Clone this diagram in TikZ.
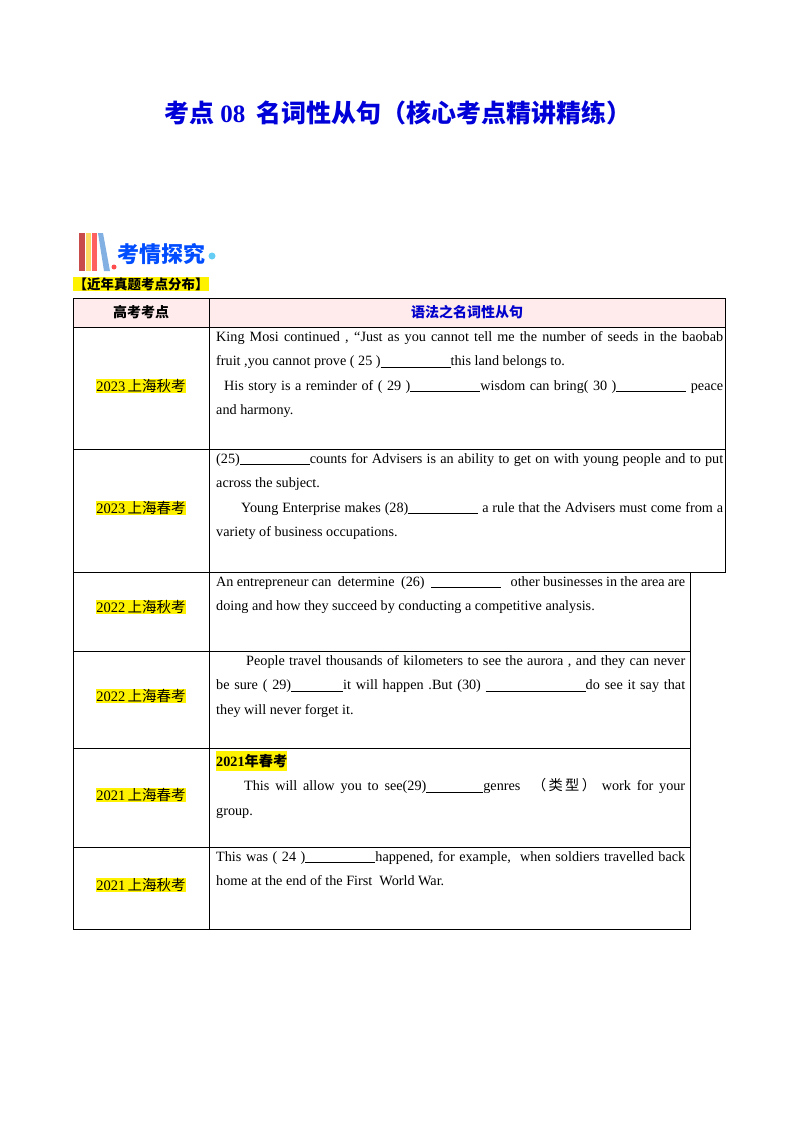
\documentclass[tikz,border=0pt]{standalone}
\usepackage{fontspec}
\setmainfont{Liberation Serif}
\newfontfamily\cjk{Noto Sans CJK SC}
\newcommand{\blank}[1]{\underline{\hspace{#1}}}
\begin{document}
\begin{tikzpicture}[x=1pt,y=-1pt,
 cell/.style={anchor=north west,text width=507pt,align=justify,inner sep=0pt,font=\fontsize{14.2}{24.5}\selectfont},
 yr/.style={fill=yellow,inner sep=0.5pt,font=\fontsize{14.5}{16}\selectfont},
 ln/.style={line width=0.8pt}]
\useasboundingbox (0,0) rectangle (800,1132);
\node[font=\cjk\bfseries\fontsize{25}{28}\selectfont,text=blue!85!black] (title) at (398,113) {考点{\rmfamily\bfseries\ 08}\ \ 名词性从句（核心考点精讲精练）};
% logo
\fill[red!70!black!70] (79,233) rectangle (85,271);
\fill[yellow!60!orange!60] (86,233) rectangle (91,271);
\fill[red!50!pink] (92,233) rectangle (97,271);
\fill[cyan!60!blue!50] (98,233) -- (103,233) -- (110,271) -- (104,271) -- cycle;
\fill[red!70] (114,267) circle (2.5);
\node[font=\cjk\bfseries\fontsize{22}{24}\selectfont,text=blue!70!cyan,anchor=west,inner sep=0pt] (logo) at (117,254) {考情探究};
\fill[cyan!60] (212,256) circle (3.5);
\node[fill=yellow,inner sep=0.5pt,anchor=west,font=\cjk\bfseries\fontsize{13.5}{15}\selectfont] (dist) at (73,284) {【近年真题考点分布】};
% table
\fill[red!8] (73,298) rectangle (725,327);
\draw[ln] (73,298) rectangle (725,327);
\draw[ln] (73,327) -- (73,929) -- (690,929) -- (690,572);
\draw[ln] (725,327) -- (725,572) -- (73,572);
\draw[ln] (209,298) -- (209,929);
\foreach \y in {449,651,748,847} \draw[ln] (73,\y) -- (690,\y);
\draw[ln] (690,449) -- (725,449);
\node[font=\cjk\bfseries\fontsize{14}{15}\selectfont] (h1) at (141,312) {高考考点};
\node[font=\cjk\bfseries\fontsize{14}{15}\selectfont,text=blue!80!black] (h2) at (467,312) {语法之名词性从句};
\node[yr] (y1) at (141,386) {2023\,{\cjk 上海秋考}};
\node[yr] (y2) at (141,508) {2023\,{\cjk 上海春考}};
\node[yr] (y3) at (141,607) {2022\,{\cjk 上海秋考}};
\node[yr] (y4) at (141,696) {2022\,{\cjk 上海春考}};
\node[yr] (y5) at (141,795) {2021\,{\cjk 上海春考}};
\node[yr] (y6) at (141,885) {2021\,{\cjk 上海秋考}};
\node[cell] (c1) at (216,331) {King Mosi continued , “Just as you cannot tell me the number of seeds in the baobab\linebreak fruit ,you cannot prove ( 25 )\blank{70pt}this land belongs to.\par
\hspace*{8pt}His story is a reminder of ( 29 )\blank{70pt}wisdom can bring( 30 )\blank{70pt} peace and harmony.};
\node[cell] (c2) at (216,453) {(25)\blank{70pt}counts for Advisers is an ability to get on with young people and to put across the subject.\par
\hspace*{25pt}Young Enterprise makes (28)\blank{70pt} a rule that the Advisers must come from a variety of business occupations.};
\node[cell,text width=469pt] (c3) at (216,576) {An entrepreneur can\ \ determine\ \ (26)\ \ \blank{70pt}\ \ \ other businesses in the area are doing and how they succeed by conducting a competitive analysis.};
\node[cell,text width=469pt] (c4) at (216,655) {\hspace*{30pt}People travel thousands of kilometers to see the aurora , and they can never\linebreak be sure ( 29)\blank{52pt}it will happen .But (30) \blank{100pt}do see it say that they will never forget it.};
\node[cell,text width=469pt] (c5) at (216,751) {{\cjk\bfseries\colorbox{yellow}{\hspace*{-3pt}{\rmfamily\bfseries 2021}年春考\hspace*{-3pt}}}\par
\hspace*{28pt}This will allow you to see(29)\blank{57pt}genres\ \ {\cjk （\,类\,型\,）}\ work for your group.};
\node[cell,text width=469pt] (c6) at (216,851) {This was ( 24 )\blank{70pt}happened, for example,\ \ when soldiers travelled back home at the end of the First\ \ World War.};
\end{tikzpicture}
\end{document}
